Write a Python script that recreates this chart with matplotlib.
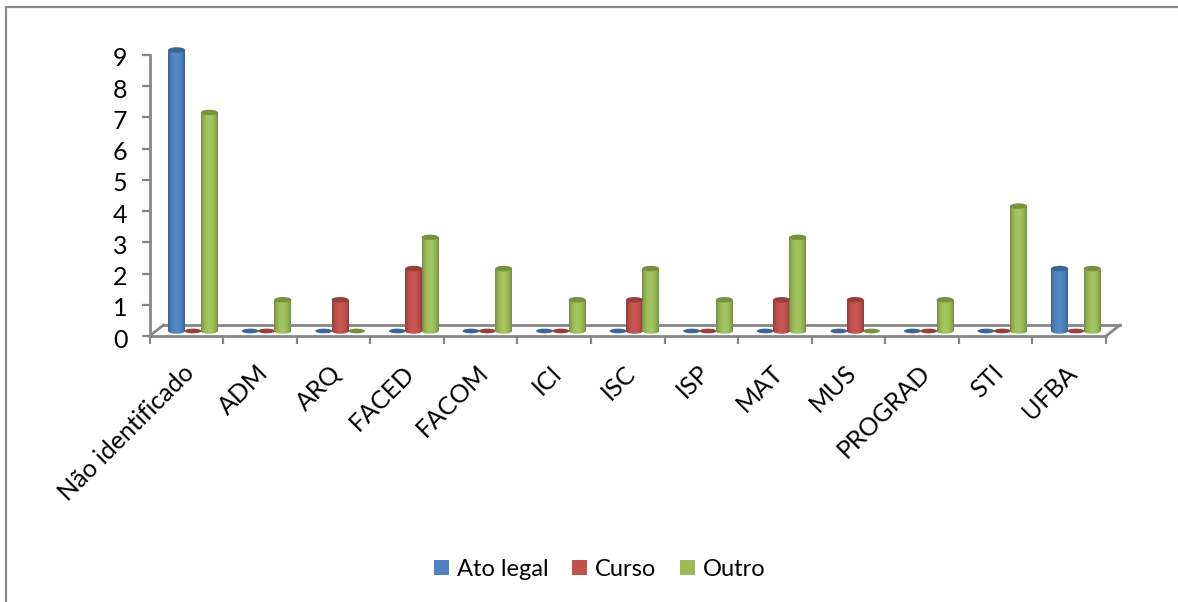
import numpy as np
import matplotlib
matplotlib.use("Agg")
import matplotlib.pyplot as plt
from matplotlib.lines import Line2D
from matplotlib.patches import Ellipse, Rectangle
from matplotlib.transforms import ScaledTranslation

categories = ["Não identificado", "ADM", "ARQ", "FACED", "FACOM", "ICI", "ISC",
              "ISP", "MAT", "MUS", "PROGRAD", "STI", "UFBA"]
ato_legal = [9, 0, 0, 0, 0, 0, 0, 0, 0, 0, 0, 0, 2]
curso = [0, 0, 1, 2, 0, 0, 1, 0, 1, 1, 0, 0, 0]
outro = [7, 1, 0, 3, 2, 1, 2, 1, 3, 0, 1, 4, 2]

W, H = 1178, 602
AXIS = "#868686"
plt.rcParams["font.family"] = ["Lato", "DejaVu Sans"]

fig = plt.figure(figsize=(W / 100, H / 100), dpi=100)

# chart area border: only top and left show in the crop
fig.add_artist(Line2D([6 / W, 6 / W, 1], [0, 1 - 7 / H, 1 - 7 / H],
                      color="#8C8C8C", lw=1.6, solid_joinstyle="miter"))

# axes box = front plane of the fake 3D chart, measured in pixels
left, right, top, bottom = 149.5, 1106, 55, 336
ax = fig.add_axes([left / W, 1 - bottom / H, (right - left) / W, (bottom - top) / H])
ax.patch.set_alpha(0)
for s in ax.spines.values():
    s.set_visible(False)

px_x = (right - left) / 13
px_y = (bottom - top) / 9
bar_w = 17 / px_x
cap_h = 5.5 / px_y
shift_x = 6.7 / px_x
shift_y = 5 / px_y
step = 16.3 / px_x


def shade(base):
    # horizontal shading across a cylinder
    base = np.array(matplotlib.colors.to_rgb(base))
    t = np.linspace(0, 1, 40)
    f = 0.74 + 0.32 * np.sin(np.pi * t) ** 0.7
    return np.clip(base[None, None, :] * f[None, :, None], 0, 1)


def gradient(x, y0, y1, clip, color):
    im = ax.imshow(shade(color), extent=[x - bar_w / 2, x + bar_w / 2, y0, y1],
                   aspect="auto", zorder=5)
    im.set_clip_box(None)
    im.set_clip_path(clip)


def cylinder(x, v, color, dark):
    y0 = shift_y
    y1 = v + shift_y
    if v == 0:
        ax.add_patch(Ellipse((x, y0), bar_w, cap_h * 0.85, fc=dark, ec="none", zorder=4,
                             clip_on=False))
        return
    gradient(x, y0, y1, Rectangle((x - bar_w / 2, y0), bar_w, v, transform=ax.transData), color)
    gradient(x, y0 - cap_h / 2, y0, Ellipse((x, y0), bar_w, cap_h, transform=ax.transData), color)
    ax.add_patch(Ellipse((x, y1), bar_w, cap_h, fc=dark, ec="none", zorder=6, clip_on=False))


idx = np.arange(len(categories))
series = [(ato_legal, "#4F81BD", "#3A6596", -1), (curso, "#C0504D", "#993E3B", 0),
          (outro, "#9BBB59", "#76923F", 1)]
for values, color, dark, k in series:
    for i, v in zip(idx, values):
        cylinder(i + shift_x + k * step, v, color, dark)

ax.set_xlim(-0.5, 12.5)
ax.set_ylim(0, 9)
ax.set_yticks(range(10))
ax.set_yticklabels([str(n) for n in range(10)], fontsize=18, color="black")
ax.set_xticks(np.arange(-0.5, 13))
ax.set_xticklabels([])
ax.tick_params(axis="both", color=AXIS, width=1.6, length=6)
ax.tick_params(axis="y", pad=10)
ax.tick_params(axis="x", length=6, pad=0)
for label in ax.get_yticklabels():
    label.set_transform(label.get_transform() + ScaledTranslation(0, -2 / 100, fig.dpi_scale_trans))

# floor and axes
dx = 14 / px_x
dy = 11 / px_y
kw = dict(color=AXIS, lw=2.0, clip_on=False, zorder=2, solid_capstyle="projecting")
ax.plot([-0.5, 12.5], [0, 0], **kw)
ax.plot([-0.5, -0.5], [0, 9], **kw)
ax.plot([-0.5, -0.5 + dx], [0, dy], **kw)
ax.plot([12.5, 12.5 + dx], [0, dy], **kw)
ax.plot([-0.5 + dx, 12.5 + dx], [dy, dy], **kw)
ax.set_xlim(-0.5, 12.5)
ax.set_ylim(0, 9)

for i, name in zip(idx, categories):
    ax.annotate(name, (i, 0), xytext=(4, -33), textcoords="offset pixels", rotation=45,
                rotation_mode="anchor", ha="right", va="center", fontsize=18,
                annotation_clip=False)

handles = [Rectangle((0, 0), 1, 1, fc=c) for _, c, _, _ in series]
fig.legend(handles, ["Ato legal", "Curso", "Outro"], loc="center", ncol=3,
           bbox_to_anchor=(600 / W, 1 - 569 / H), frameon=False, fontsize=17,
           handlelength=0.62, handleheight=0.62, handletextpad=0.35, columnspacing=1.0)

fig.savefig("out.png", dpi=100)
